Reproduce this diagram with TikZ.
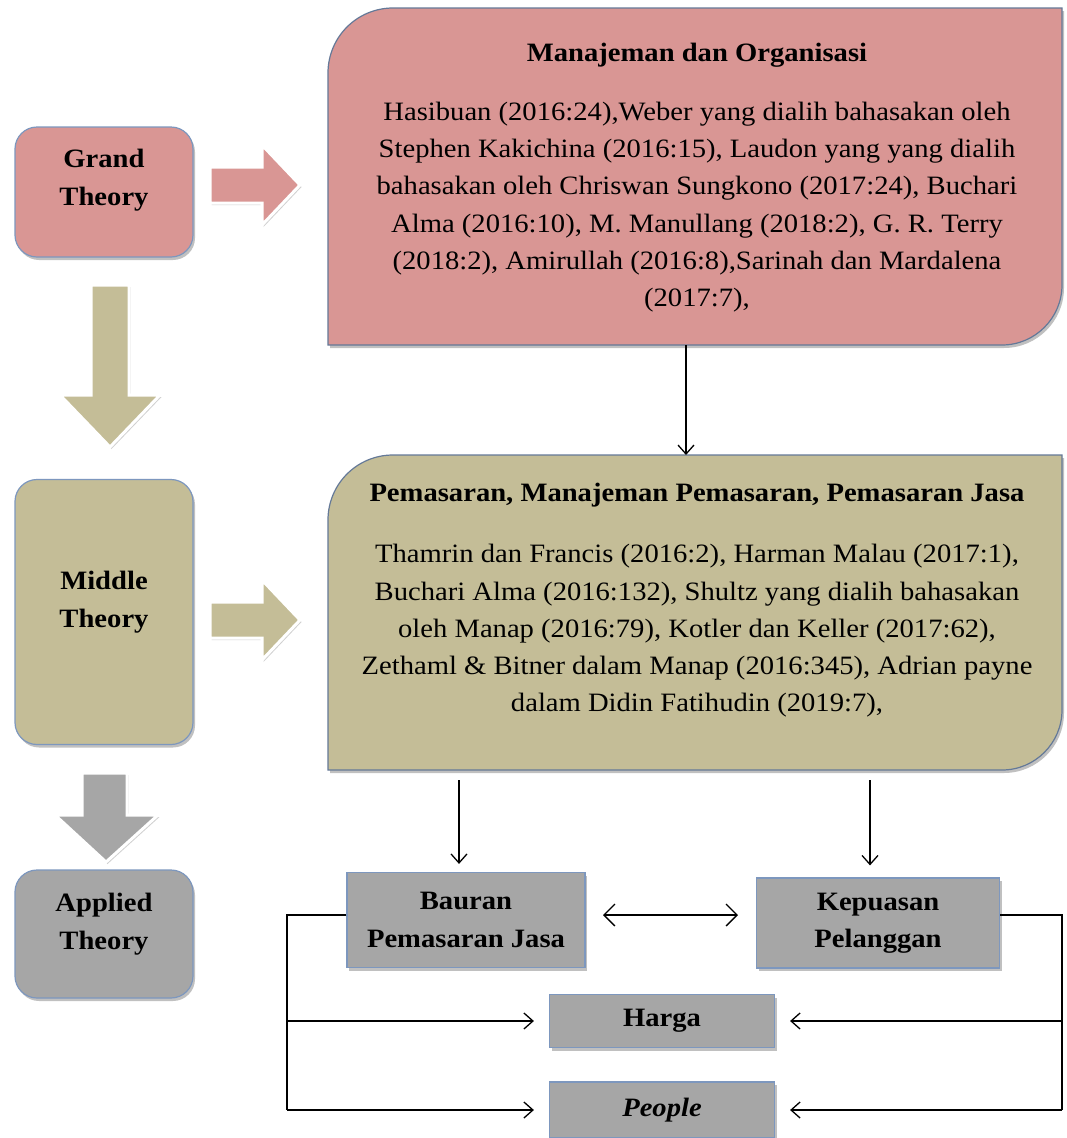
\documentclass[tikz,border=0pt]{standalone}
\usepackage{fontspec}
\setmainfont[FakeStretch=1.08]{Liberation Serif}
\usetikzlibrary{arrows.meta,shadows}
\definecolor{pinkf}{HTML}{D99694}
\definecolor{tanf}{HTML}{C4BD97}
\definecolor{grayf}{HTML}{A6A6A6}
\definecolor{edgeb}{HTML}{7D97BE}
\tikzset{
  txt/.style={font=\fontsize{26.5}{37.3}\selectfont, align=center, inner sep=0pt},
  ttl/.style={font=\bfseries\fontsize{26.5}{37.5}\selectfont, align=center, inner sep=0pt},
  shd/.style={drop shadow={shadow xshift=2pt,shadow yshift=-3pt,opacity=0.35,fill=black!70}},
  sidebox/.style={draw=edgeb, line width=1.2pt, rounded corners=22pt, shd},
  smallbox/.style={draw=edgeb, line width=1.2pt, fill=grayf, shd, font=\bfseries\fontsize{26.5}{37.5}\selectfont, align=center},
  bigbox/.style={draw=edgeb!80!black, line width=1.2pt, shd},
  blockarrow/.style={draw=white, line width=3pt, line join=miter, drop shadow={shadow xshift=1.5pt,shadow yshift=-2pt,opacity=0.3,fill=black!60}},
  arr/.style={line width=1.3pt, -{Straight Barb[length=9pt,width=16pt,line width=1.3pt]}},
  arrb/.style={line width=1.3pt, {Straight Barb[length=11pt,width=22pt,line width=1.3pt]}-{Straight Barb[length=11pt,width=22pt,line width=1.3pt]}},
  ln/.style={line width=1.3pt}
}
\begin{document}
\begin{tikzpicture}[x=1pt,y=-1pt]
\useasboundingbox (0,0) rectangle (1067,1138);
\fill[white] (0,0) rectangle (1067,1138);

% ---------- left column boxes ----------
\node[sidebox, fill=pinkf, minimum width=178pt, minimum height=130pt] (grand) at (104,192) {};
\node[ttl] (grandt) at (104,180) {Grand\\Theory};
\node[sidebox, fill=tanf, minimum width=178pt, minimum height=265pt] (middle) at (104,612) {};
\node[ttl] (middlet) at (104,602) {Middle\\Theory};
\node[sidebox, fill=grayf, minimum width=178pt, minimum height=128pt] (applied) at (104,934) {};
\node[ttl] (appliedt) at (104,924) {Applied\\Theory};

% ---------- block arrows ----------
\filldraw[blockarrow, fill=pinkf] (210,167) -- (262,167) -- (262,145) -- (300,185) -- (262,225) -- (262,203) -- (210,203) -- cycle;
\filldraw[blockarrow, fill=tanf] (210,602) -- (262,602) -- (262,580) -- (300,620) -- (262,660) -- (262,638) -- (210,638) -- cycle;
\filldraw[blockarrow, fill=tanf] (91,285) -- (129,285) -- (129,395) -- (160,395) -- (110,447) -- (60,395) -- (91,395) -- cycle;
\filldraw[blockarrow, fill=grayf] (82,773) -- (127,773) -- (127,815) -- (158,815) -- (106,862) -- (55,815) -- (82,815) -- cycle;

% ---------- big boxes ----------
\filldraw[bigbox, fill=pinkf]
  (328,345) -- (328,73) .. controls (328,37) and (357,8) .. (393,8) -- (1062,8)
  -- (1062,285) .. controls (1062,318) and (1035,345) .. (1002,345) -- cycle;
\node[ttl] (mo) at (697,55) {Manajeman dan Organisasi};
\node[txt] (mot) at (697,207) {Hasibuan (2016:24),Weber yang dialih bahasakan oleh\\
Stephen Kakichina (2016:15), Laudon yang yang dialih\\
bahasakan oleh Chriswan Sungkono (2017:24), Buchari\\
Alma (2016:10), M. Manullang (2018:2), G. R. Terry\\
(2018:2), Amirullah (2016:8),Sarinah dan Mardalena\\
(2017:7),};

\filldraw[bigbox, fill=tanf]
  (328,770) -- (328,520) .. controls (328,484) and (357,455) .. (393,455) -- (1062,455)
  -- (1062,710) .. controls (1062,743) and (1035,770) .. (1002,770) -- cycle;
\node[ttl] (pm) at (697,495) {Pemasaran, Manajeman Pemasaran, Pemasaran Jasa};
\node[txt] (pmt) at (697,631) {Thamrin dan Francis (2016:2), Harman Malau (2017:1),\\
Buchari Alma (2016:132), Shultz yang dialih bahasakan\\
oleh Manap (2016:79), Kotler dan Keller (2017:62),\\
Zethaml \& Bitner dalam Manap (2016:345), Adrian payne\\
dalam Didin Fatihudin (2019:7),};

\coordinate (mob) at (686,345);
\coordinate (pmtop) at (686,455);
\draw[arr] (mob) -- (pmtop);

% ---------- bottom boxes ----------
\node[smallbox, minimum width=238pt, minimum height=95pt] (bauran) at (466,920) {Bauran\\Pemasaran Jasa};
\node[smallbox, minimum width=243pt, minimum height=90pt] (kepuasan) at (878,923) {Kepuasan\\Pelanggan};
\node[smallbox, minimum width=225pt, minimum height=53pt] (harga) at (662,1021) {Harga};
\node[smallbox, minimum width=225pt, minimum height=56pt, font=\bfseries\itshape\fontsize{26.5}{37.5}\selectfont] (people) at (662,1110) {People};

\coordinate (s1) at (459,780);
\coordinate (s2) at (870,780);
\draw[arr, shorten >=8pt] (s1) -- (s1 |- bauran.north);
\draw[arr, shorten >=12pt] (s2) -- (s2 |- kepuasan.north);
\coordinate (dl) at (603,915);
\coordinate (dr) at (738,915);
\draw[arrb] (dl) -- (dr);

\coordinate (lc) at (287,915);
\coordinate (rc) at (1062,915);
\draw[ln] ([yshift=5pt]bauran.west) -- (lc) -- (lc |- people.west);
\draw[arr, shorten >=15pt] (lc |- harga.west) -- (harga.west);
\draw[arr, shorten >=15pt] (lc |- people.west) -- (people.west);
\draw[ln] ([yshift=8pt]kepuasan.east) -- (rc) -- (rc |- people.east);
\draw[arr, shorten >=15pt] (rc |- harga.east) -- (harga.east);
\draw[arr, shorten >=15pt] (rc |- people.east) -- (people.east);
\end{tikzpicture}
\end{document}
